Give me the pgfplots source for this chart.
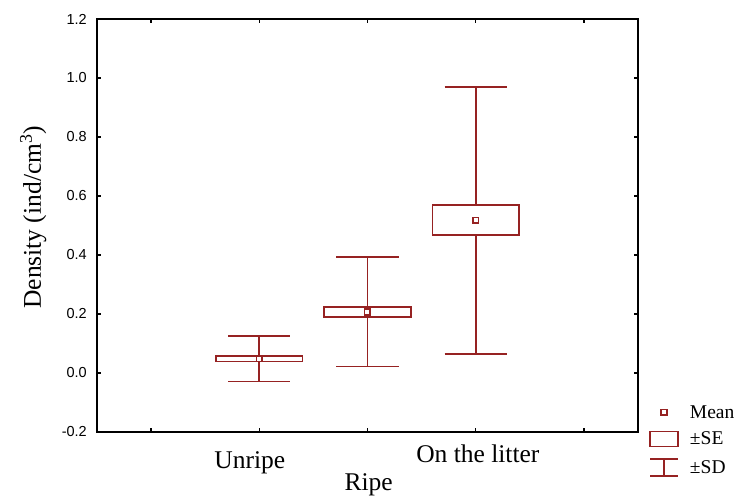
\documentclass[border=0pt]{standalone}
\usepackage{fontspec}
\setmainfont{Liberation Serif}
\setsansfont{Liberation Sans}
\usepackage{pgfplots}
\pgfplotsset{compat=1.18}
\usepgfplotslibrary{statistics}
\definecolor{boxred}{HTML}{962222}

\begin{document}
\begin{tikzpicture}
\useasboundingbox (-97pt,-66pt) rectangle (639pt,432pt);
\begin{axis}[
    at={(0,0)}, anchor=south west,
    scale only axis, width=541pt, height=413pt,
    xmin=-1.5, xmax=3.5, ymin=-0.2, ymax=1.2,
    xtick={-1,0,1,2,3}, xticklabels={},
    ytick={-0.2,0,0.2,0.4,0.6,0.8,1.0,1.2},
    tick align=inside, major tick length=4pt,
    tick style={black, line width=1.3pt},
    axis line style={line width=1.5pt},
    clip=false,
    yticklabel style={font=\sffamily\fontsize{14.5}{16}\selectfont, inner sep=0pt, xshift=-10pt,
        /pgf/number format/.cd, fixed, fixed zerofill, precision=1, assume math mode=true},
    ylabel={Density (ind/cm\textsuperscript{3})},
    ylabel style={at={(axis description cs:-0.118,0.52)}, anchor=center,
        font=\fontsize{25.5}{28}\selectfont},
    boxplot/draw direction=y,
    boxplot/draw/median/.code={},
    boxplot/every whisker/.style={line width=1.8pt},
    boxplot/every box/.style={line width=1.8pt, line join=miter},
    legend style={draw=none, fill=none, at={(1.0203,0.065)}, anchor=north west,
        inner sep=0pt, row sep=11pt, nodes={inner sep=0pt},
        font=\fontsize{19.5}{22}\selectfont,
        /tikz/every odd column/.append style={column sep=11pt}},
    legend cell align=left,
]
% SD whiskers and SE boxes (mean -/+ SE, mean -/+ SD)
\addplot[forget plot, boxred, line width=1.8pt,
    boxplot prepared={draw position=0, lower whisker=-0.029, lower quartile=0.039,
        median=0.048, upper quartile=0.057, upper whisker=0.125,
        box extend=0.8, whisker extend=0.575}] coordinates {};
\addplot[forget plot, boxred, line width=1.8pt,
    boxplot prepared={draw position=1, lower whisker=0.022, lower quartile=0.189,
        median=0.207, upper quartile=0.225, upper whisker=0.392,
        box extend=0.8, whisker extend=0.575}] coordinates {};
\addplot[forget plot, boxred, line width=1.8pt,
    boxplot prepared={draw position=2, lower whisker=0.064, lower quartile=0.467,
        median=0.517, upper quartile=0.569, upper whisker=0.970,
        box extend=0.8, whisker extend=0.575}] coordinates {};
% means
\addplot[forget plot, only marks, mark=square*, mark size=2.8pt,
    mark options={draw=boxred, fill=white, line width=1.6pt}]
    coordinates {(0,0.048) (1,0.207) (2,0.517)};

\addlegendimage{legend image code/.code={
    \path[draw=none] (0pt,0pt) -- (28pt,0pt);
    \draw[boxred, line width=1.6pt, fill=white] (11pt,-2.8pt) rectangle (17pt,2.8pt);}}
\addlegendentry{Mean}
\addlegendimage{legend image code/.code={
    \draw[boxred, line width=1.8pt] (0pt,-7.5pt) rectangle (28pt,7.5pt);}}
\addlegendentry{±SE}
\addlegendimage{legend image code/.code={
    \draw[boxred, line width=1.8pt] (0pt,8.5pt) -- (28pt,8.5pt) (14pt,8.5pt) -- (14pt,-8.5pt)
        (0pt,-8.5pt) -- (28pt,-8.5pt);}}
\addlegendentry{±SD}

\node[anchor=base, font=\fontsize{25.5}{28}\selectfont] at ([yshift=-36pt]axis cs:-0.088,-0.2) {Unripe};
\node[anchor=base, font=\fontsize{25.5}{28}\selectfont] at ([yshift=-58pt]axis cs:1.01,-0.2) {Ripe};
\node[anchor=base, font=\fontsize{25.5}{28}\selectfont] at ([yshift=-30pt]axis cs:2.02,-0.2) {On the litter};
\end{axis}
\end{tikzpicture}
\end{document}
